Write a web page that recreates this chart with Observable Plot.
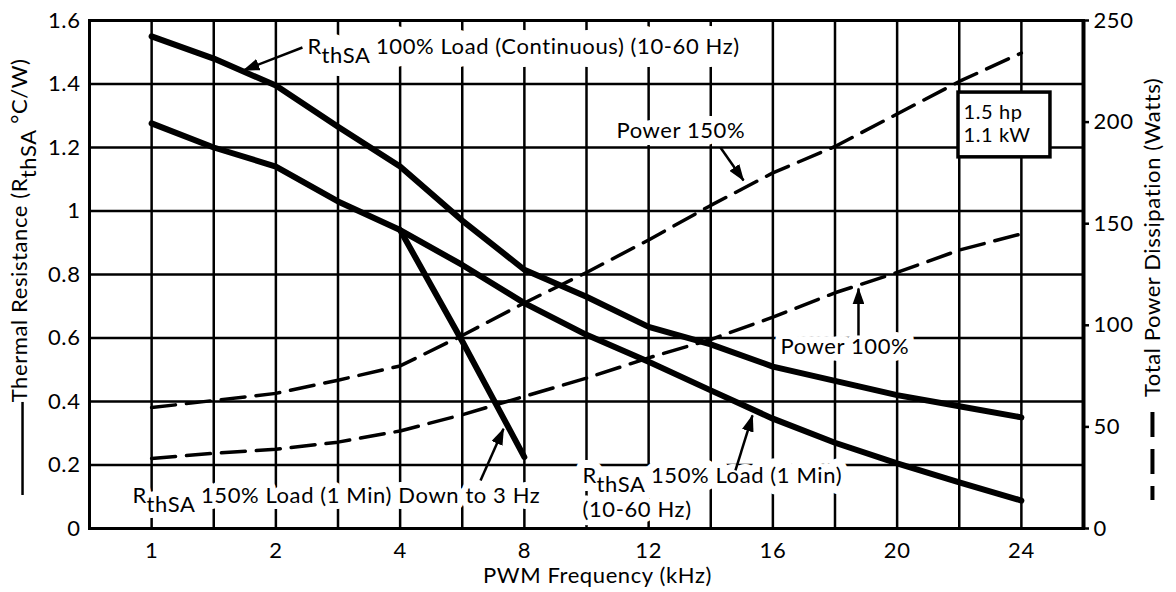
<!DOCTYPE html>
<html><head><meta charset="utf-8">
<style>body{margin:0;background:#fff;} svg{display:block;}</style>
<script src="https://cdn.jsdelivr.net/npm/d3@7"></script>
<script src="https://cdn.jsdelivr.net/npm/@observablehq/plot@0.6"></script>
</head><body><div id="chart"></div>
<script>
// ---- data ----
const freqTicks = [1, 2, 4, 8, 12, 16, 20, 24];            // kHz tick labels (evenly spaced)
const freqs = [1, 1.5, 2, 3, 4, 6, 8, 10, 12, 14, 16, 18, 20, 22, 24];
const rth100Cont = [1.55, 1.48, 1.395, 1.265, 1.14, 0.97, 0.815, 0.73, 0.635, 0.58, 0.51, 0.465, 0.42, 0.385, 0.35];
const rth150 = [1.276, 1.2, 1.14, 1.03, 0.94, 0.83, 0.71, 0.61, 0.525, 0.435, 0.346, 0.27, 0.205, 0.145, 0.088];
const freqs3Hz = [4, 6, 8];
const rth150Down3Hz = [0.94, 0.59, 0.225];
const power150 = [59.5, 63, 66.5, 73, 80, 95, 111, 126, 142, 159, 175, 188, 204, 220, 234];
const power100 = [34.5, 37, 39, 42.5, 48, 56, 65, 74, 84, 93, 104, 116, 126, 137, 145];
const rthTicks = [0, 0.2, 0.4, 0.6, 0.8, 1, 1.2, 1.4, 1.6];
const powerTicks = [0, 50, 100, 150, 200, 250];
const rthMax = 1.6, powerMax = 250;

// annotations, in chart units (x = tick slot, y = °C/W)
const labels = [
  {text: "R_{thSA} 100% Load (Continuous) (10-60 Hz)", x: 1.2545, y: 1.518, halo: 26},
  {text: "Power 150%", x: 3.741, y: 1.253, halo: 14},
  {text: "Power 100%", x: 5.061, y: 0.573, halo: 14},
  {text: "R_{thSA} 150% Load (1 Min) Down to 3 Hz", x: -0.154, y: 0.104, halo: 12},
  {text: "R_{thSA} 150% Load (1 Min)", x: 3.468, y: 0.167, halo: 16},
  {text: "(10-60 Hz)", x: 3.468, y: 0.057, halo: 10}
];
const pointers = [
  {x1: 1.214, y1: 1.515, x2: 0.739, y2: 1.443},
  {x1: 4.578, y1: 1.2, x2: 4.764, y2: 1.096},
  {x1: 5.689, y1: 0.608, x2: 5.689, y2: 0.756},
  {x1: 2.647, y1: 0.151, x2: 2.832, y2: 0.314},
  {x1: 4.699, y1: 0.183, x2: 4.836, y2: 0.356}
];
const boxText = "1.5 hp\n1.1 kW";

// ---- transforms ----
const slot = d3.scaleLinear().domain(freqTicks).range(d3.range(freqTicks.length));
const toRth = w => w / powerMax * rthMax;
const series = (fs, ys, f = v => v) => fs.map((q, i) => ({x: slot(q), y: f(ys[i])}));
const gridSlots = freqs.map(slot);
const hGrid = rthTicks.filter(v => v > 0 && v < rthMax);

const svg = Plot.plot({
  width: 1176, height: 592,
  marginLeft: 89, marginRight: 93, marginTop: 20, marginBottom: 64,
  style: {fontFamily: "Lato, 'Noto Sans', sans-serif", fontSize: "22px", color: "black", background: "white", letterSpacing: "0.6px"},
  x: {domain: [-0.5, freqTicks.length - 0.5], label: null, axis: null},
  y: {domain: [0, rthMax], label: null, axis: null},
  marks: [
    Plot.ruleX(gridSlots, {stroke: "black", strokeWidth: 2.5}),
    Plot.ruleY(hGrid, {stroke: "black", strokeWidth: 2.5}),
    ...labels.map(l => Plot.text([l], {x: "x", y: "y", text: "text", textAnchor: "start", fontSize: 22,
      fill: "white", stroke: "white", strokeWidth: l.halo, strokeLinejoin: "round"})),
    Plot.text(labels, {x: "x", y: "y", text: "text", textAnchor: "start", fontSize: 22, fill: "black"}),
    Plot.rect([0], {x1: 6.494, x2: 7.234, y1: 1.373, y2: 1.169, fill: "white", stroke: "black", strokeWidth: 3.5}),
    Plot.text([boxText], {x: 6.534, y: 1.345, text: d => d, textAnchor: "start", lineAnchor: "top", lineHeight: 1.2, fontSize: 20}),
    Plot.frame({stroke: "black", strokeWidth: 3}),
    Plot.line(series(freqs, power150, toRth), {x: "x", y: "y", stroke: "black", strokeWidth: 3.5, strokeDasharray: "24,11"}),
    Plot.line(series(freqs, power100, toRth), {x: "x", y: "y", stroke: "black", strokeWidth: 3.5, strokeDasharray: "24,11"}),
    Plot.line(series(freqs, rth100Cont), {x: "x", y: "y", stroke: "black", strokeWidth: 6, strokeLinejoin: "round"}),
    Plot.line(series(freqs, rth150), {x: "x", y: "y", stroke: "black", strokeWidth: 6, strokeLinejoin: "round"}),
    Plot.line(series(freqs3Hz, rth150Down3Hz), {x: "x", y: "y", stroke: "black", strokeWidth: 6, strokeLinejoin: "round"}),
    Plot.link(pointers, {x1: "x1", y1: "y1", x2: "x2", y2: "y2", stroke: "black", strokeWidth: 2.5}),
    Plot.axisX(d3.range(freqTicks.length), {anchor: "bottom", tickSize: 0, tickPadding: 14, tickFormat: i => freqTicks[i], fontSize: 22, label: null}),
    Plot.axisY(rthTicks, {anchor: "left", tickSize: 0, tickPadding: 9, tickFormat: d3.format("~g"), fontSize: 22, label: null}),
    Plot.axisY(powerTicks.map(toRth), {anchor: "right", tickSize: 5, tickPadding: 5, strokeWidth: 2.5, tickFormat: v => Math.round(v * powerMax / rthMax), fontSize: 22, label: null}),
    Plot.ruleX([freqTicks.length - 0.5], {stroke: "black", strokeWidth: 4}),
    Plot.text(["PWM Frequency (kHz)"], {x: 3.588, y: -0.151, text: d => d, fontSize: 22}),
    Plot.text(["Thermal Resistance (R_{thSA} °C/W)"], {x: -1.063, y: 0.939, text: d => d, rotate: -90, fontSize: 22}),
    Plot.text(["Total Power Dissipation (Watts)"], {x: 8.063, y: 0.917, text: d => d, rotate: -90, fontSize: 22}),
    Plot.ruleX([-1.039], {y1: 0.397, y2: 0.104, stroke: "black", strokeWidth: 2.5}),
    Plot.ruleX([8.055], {y1: 0.365, y2: 0.088, stroke: "black", strokeWidth: 4, strokeDasharray: "25,12"})
  ]
});

// subscripts
d3.select(svg).selectAll("text").each(function() {
  if (this.querySelector("tspan")) return;
  const m = this.textContent.match(/^(.*)_\{(.+?)\}(.*)$/);
  if (!m) return;
  this.textContent = "";
  const t = d3.select(this);
  t.append("tspan").text(m[1]);
  t.append("tspan").attr("dy", "0.42em").text(m[2]);
  t.append("tspan").attr("dy", "-0.42em").text(m[3]);
});
// filled arrowheads
const defs = d3.select(svg).insert("defs", ":first-child");
defs.append("marker").attr("id", "ahead").attr("viewBox", "0 0 17 12")
  .attr("refX", 16).attr("refY", 6).attr("markerWidth", 17).attr("markerHeight", 12)
  .attr("markerUnits", "userSpaceOnUse").attr("orient", "auto")
  .append("path").attr("d", "M0,0L17,6L0,12Z").attr("fill", "black");
d3.select(svg).selectAll('g[aria-label="link"] path').attr("marker-end", "url(#ahead)");

document.getElementById("chart").appendChild(svg);
</script>
</body></html>
